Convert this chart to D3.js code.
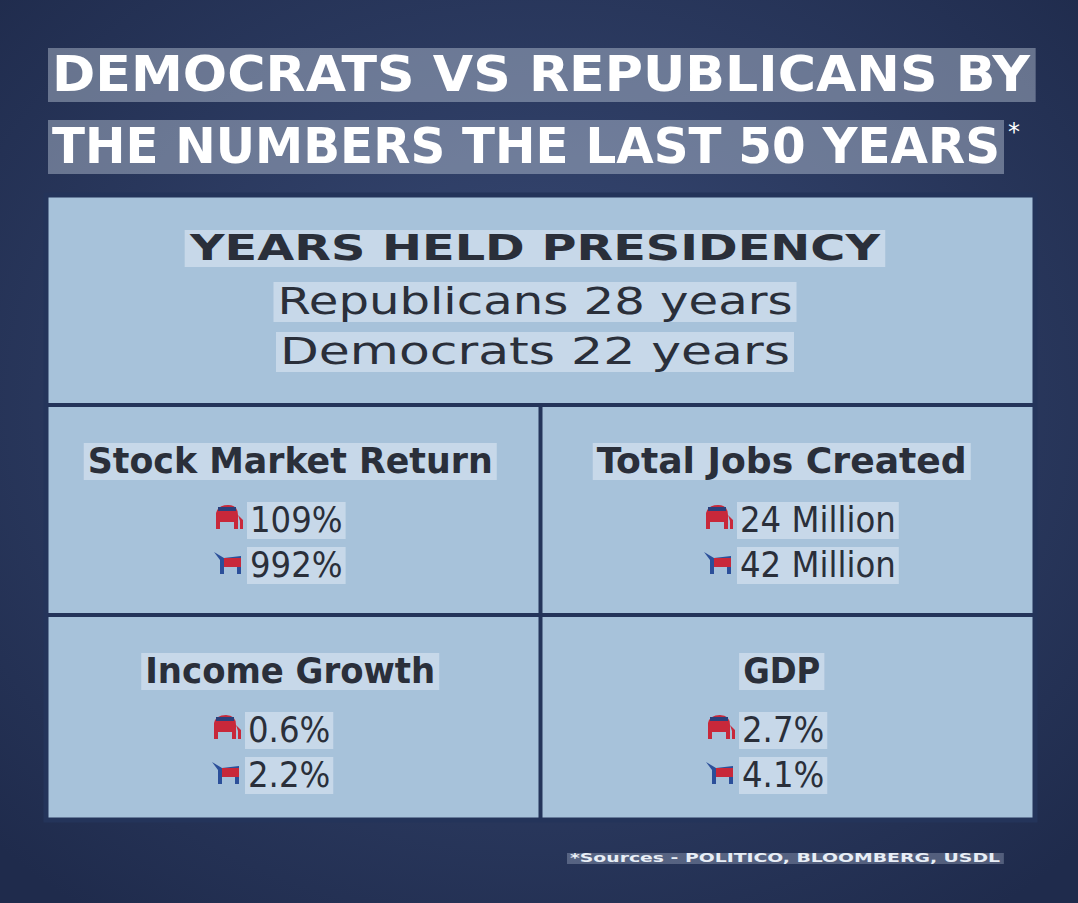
<!DOCTYPE html><html><head><meta charset="utf-8">
<script src="https://cdn.jsdelivr.net/npm/d3@7"></script>
<style>body{margin:0;background:#263559}</style></head><body>
<svg id="c" width="1078" height="903"></svg>
<script>
const titleLines=["DEMOCRATS VS REPUBLICANS BY","THE NUMBERS THE LAST 50 YEARS"];
const presHeading="YEARS HELD PRESIDENCY";
const presLines=["Republicans 28 years","Democrats 22 years"];
const metrics=["Stock Market Return","Total Jobs Created","Income Growth","GDP"];
const repValues=["109%","24 Million","0.6%","2.7%"];
const demValues=["992%","42 Million","2.2%","4.1%"];
const source="*Sources - POLITICO, BLOOMBERG, USDL";

const svg=d3.select("#c");
const defs=svg.append("defs");
const g=defs.append("radialGradient").attr("id","bg").attr("cx","50%").attr("cy","45%").attr("r","70%");
g.append("stop").attr("offset","0").attr("stop-color","#3a4c78");
g.append("stop").attr("offset","1").attr("stop-color","#1f2b4c");
svg.append("rect").attr("width",1078).attr("height",903).attr("fill","url(#bg)");

function hl(sel,x,y,txt,size,weight,anchor,fill,bg,family,pad,len){
  const t=sel.append("text").attr("x",x).attr("y",y).text(txt).attr("font-size",size)
    .attr("font-weight",weight).attr("text-anchor",anchor).attr("fill",fill)
    .attr("font-family",family||"'DejaVu Sans Condensed','DejaVu Sans',sans-serif");
  if(len) t.attr("textLength",len).attr("lengthAdjust","spacingAndGlyphs");
  const b=t.node().getBBox(); const p=pad||4;
  sel.insert("rect",()=>t.node()).attr("x",b.x-p).attr("y",b.y+3).attr("width",b.width+2*p).attr("height",b.height-4).attr("fill",bg);
  return b;
}
const tg=svg.append("g");
const tLens=[978,948];
titleLines.forEach((l,i)=>hl(tg,52,91+i*72,l,50,"bold","start","#ffffff","rgba(215,225,240,0.38)","'DejaVu Sans Condensed',sans-serif",4,tLens[i]));
tg.append("text").attr("x",1008).attr("y",140).text("*").attr("fill","#fff").attr("font-size",24).attr("font-family","DejaVu Sans");

const X=d3.scaleLinear().domain([0,2]).range([46,1035]);
const Y=d3.scaleLinear().domain([0,1,2,3]).range([195,405,615,820]);
svg.append("rect").attr("x",X(0)).attr("y",Y(0)).attr("width",X(2)-X(0)).attr("height",Y(3)-Y(0))
  .attr("fill","#a7c2da").attr("stroke","#24345a").attr("stroke-width",5);
[1,2].forEach(r=>svg.append("line").attr("x1",X(0)).attr("x2",X(2)).attr("y1",Y(r)).attr("y2",Y(r)).attr("stroke","#24345a").attr("stroke-width",4));
svg.append("line").attr("x1",X(1)).attr("x2",X(1)).attr("y1",Y(1)).attr("y2",Y(3)).attr("stroke","#24345a").attr("stroke-width",4);

const pg=svg.append("g");
const lightBg="rgba(225,235,245,0.55)";
hl(pg,535,260,presHeading,36,"bold","middle","#2a2f3a",lightBg,"'DejaVu Sans',sans-serif",4,690);
const pLens=[515,510];
presLines.forEach((l,i)=>hl(pg,535,314+i*50,l,38,"normal","middle","#2a2f3a",lightBg,"'DejaVu Sans',sans-serif",4,pLens[i]));

function elephant(sel,x,y){
  const e=sel.append("g").attr("transform",`translate(${x},${y})`);
  e.append("path").attr("d","M2,24 L2,8 Q4,0 14,0 Q24,0 24,10 L24,24 L20,24 L20,17 L6,17 L6,24 Z").attr("fill","#c8283a");
  e.append("rect").attr("x",4).attr("y",2).attr("width",18).attr("height",4).attr("fill","#2b3f7a");
  e.append("path").attr("d","M24,10 L29,15 L29,24 L26,24 L26,16 Z").attr("fill","#c8283a");
}
function donkey(sel,x,y){
  const e=sel.append("g").attr("transform",`translate(${x},${y})`);
  e.append("path").attr("d","M0,2 L10,8 L27,6 L27,24 L23,24 L23,17 L10,17 L10,24 L6,24 L6,10 Z").attr("fill","#2b4f9a");
  e.append("rect").attr("x",10).attr("y",8).attr("width",17).attr("height",9).attr("fill","#c8283a");
}
const cells=metrics.map((m,i)=>({m,r:repValues[i],d:demValues[i],col:i%2,row:1+Math.floor(i/2)}));
const hLens=[405,370,290,null];
const cg=svg.selectAll("g.cell").data(cells).join("g");
cg.each(function(c,i){
  const s=d3.select(this); const top=Y(c.row);
  const hx=c.col===0?X(0.5)-3:X(1.5)-6;
  hl(s,hx,top+68,c.m,36,"bold","middle","#2a2f3a",lightBg,"'DejaVu Sans Condensed',sans-serif",4,hLens[i]);
  const vx=c.col===0?(c.row===1?250:248):(c.row===1?740:742);
  hl(s,vx,top+127,c.r,36,"normal","start","#2a2f3a",lightBg,"'DejaVu Sans Condensed',sans-serif",3);
  hl(s,vx,top+172,c.d,36,"normal","start","#2a2f3a",lightBg,"'DejaVu Sans Condensed',sans-serif",3);
  elephant(s,vx-36,top+100); donkey(s,vx-36,top+145);
});
hl(svg,1000,862,source,13,"bold","end","#e8eef6","rgba(200,210,230,0.3)","'DejaVu Sans Condensed',sans-serif",3,430);
</script></body></html>
